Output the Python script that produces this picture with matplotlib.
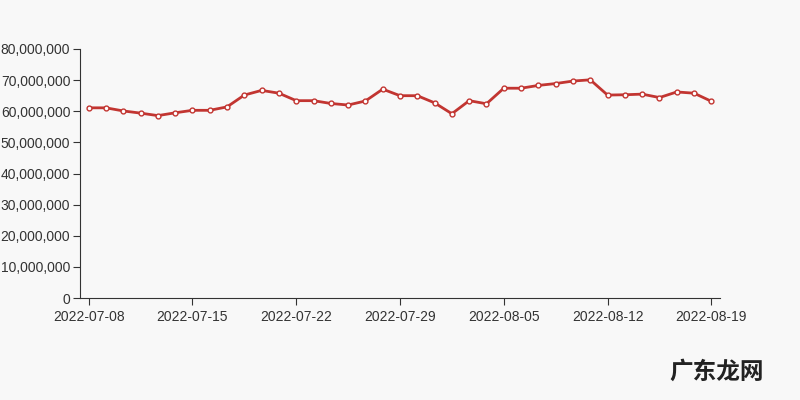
import matplotlib
matplotlib.use("Agg")
import matplotlib.pyplot as plt
from matplotlib.ticker import FuncFormatter

plt.rcParams["font.family"] = ["Liberation Sans", "DejaVu Sans", "Noto Sans CJK SC"]

dates = [
    "2022-07-08", "2022-07-09", "2022-07-11", "2022-07-12", "2022-07-13", "2022-07-14",
    "2022-07-15", "2022-07-16", "2022-07-18", "2022-07-19", "2022-07-20", "2022-07-21",
    "2022-07-22", "2022-07-23", "2022-07-25", "2022-07-26", "2022-07-27", "2022-07-28",
    "2022-07-29", "2022-07-30", "2022-08-01", "2022-08-02", "2022-08-03", "2022-08-04",
    "2022-08-05", "2022-08-06", "2022-08-08", "2022-08-09", "2022-08-10", "2022-08-11",
    "2022-08-12", "2022-08-13", "2022-08-15", "2022-08-16", "2022-08-17", "2022-08-18",
    "2022-08-19",
]
values_m = [
    61.1, 61.1, 60.1, 59.4, 58.6, 59.5, 60.3, 60.3, 61.4, 65.2, 66.7, 65.8,
    63.4, 63.4, 62.5, 62.0, 63.3, 67.1, 65.0, 65.0, 62.7, 59.2, 63.4, 62.4,
    67.4, 67.4, 68.3, 68.9, 69.7, 70.1, 65.2, 65.3, 65.5, 64.4, 66.2, 65.8,
    63.2,
]
values = [v * 1e6 for v in values_m]

bg = "#f8f8f8"
fig = plt.figure(figsize=(8, 4), dpi=100, facecolor=bg)
ax = fig.add_axes([0.1, 0.255, 0.8, 0.6225], facecolor=bg)

x = list(range(len(dates)))
ax.plot(x, values, color="#c23531", lw=2, marker="o", ms=3.5,
        mfc="white", mec="#c23531", mew=1, zorder=3)

ax.set_xlim(-0.5, len(dates) - 0.5)
ax.set_ylim(0, 80e6)
ax.set_yticks(range(0, 80_000_001, 10_000_000))
ax.yaxis.set_major_formatter(FuncFormatter(lambda v, _: f"{int(v):,}"))
ax.set_xticks(x[::6])
ax.set_xticklabels(dates[::6])
ax.tick_params(colors="#333333", labelsize=10, length=5)
ax.tick_params(axis="y", pad=2)
for s in ("top", "right"):
    ax.spines[s].set_visible(False)
for s in ("left", "bottom"):
    ax.spines[s].set_color("#333333")

fig.text(0.955, 0.07, "广东龙网", ha="right", va="center", fontsize=17,
         fontweight="bold", color="#222222",
         family=["Noto Sans CJK SC", "DejaVu Sans"])

fig.savefig("out.png", dpi=100, facecolor=bg)
